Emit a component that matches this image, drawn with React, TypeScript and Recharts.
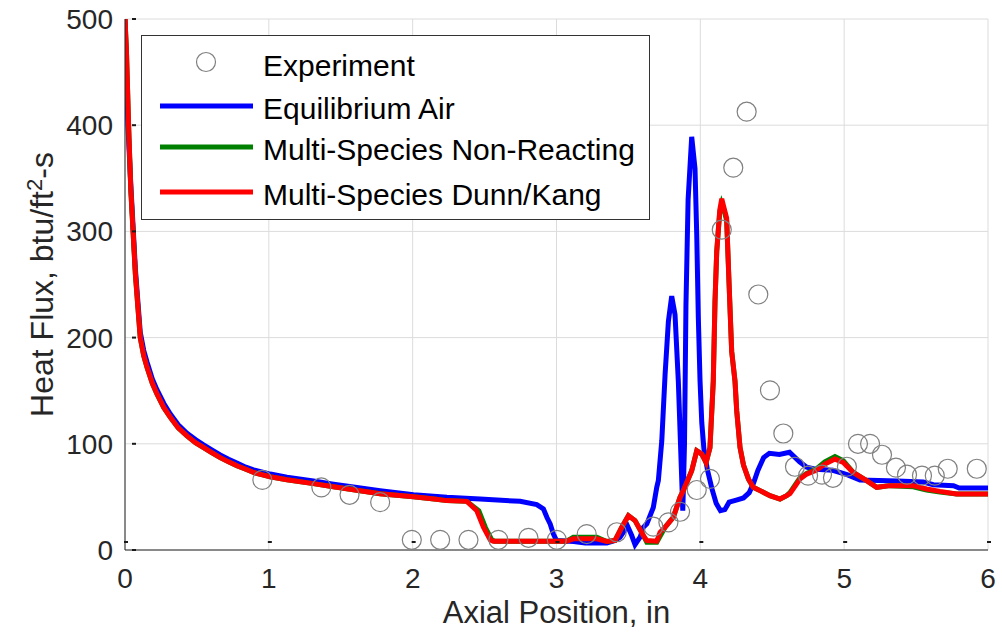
import React from 'react';
import { ComposedChart, Line, Scatter, XAxis, YAxis, CartesianGrid, Legend, Label } from 'recharts';

const FONT = '"Liberation Sans", Arial, Helvetica, sans-serif';
const TEXT = '#262626';

const xTicks = [0, 1, 2, 3, 4, 5, 6];
const yTicks = [0, 100, 200, 300, 400, 500];

const seriesNames = ['Experiment', 'Equilibrium Air', 'Multi-Species Non-Reacting', 'Multi-Species Dunn/Kang'];

// Experiment (open circles)
const expX = [0.955, 1.365, 1.561, 1.774, 1.994, 2.191, 2.388, 2.596, 2.805, 3.002, 3.21, 3.419, 3.673, 3.778, 3.859, 3.975, 4.067, 4.149, 4.229, 4.322, 4.403, 4.484, 4.577, 4.658, 4.749, 4.846, 4.922, 5.019, 5.096, 5.18, 5.263, 5.36, 5.437, 5.541, 5.63, 5.72, 5.922];
const expY = [66, 59, 52, 45, 9.6, 9.6, 9.6, 9.6, 11.5, 9.6, 15, 16.7, 22, 26, 36, 56.5, 67, 301.6, 360, 412.7, 240.6, 150.4, 109.7, 78.4, 70, 71, 68, 78.4, 100, 100, 89.7, 77.5, 70.9, 70, 70, 76.5, 76.5];

// Equilibrium Air (blue)
const eqX = [0, 0.008, 0.02, 0.04, 0.056, 0.072, 0.09, 0.106, 0.13, 0.153, 0.19, 0.222, 0.27, 0.315, 0.37, 0.431, 0.49, 0.546, 0.6, 0.662, 0.72, 0.778, 0.84, 0.894, 0.95, 1.01, 1.126, 1.31, 1.45, 1.6, 1.774, 2.006, 2.238, 2.469, 2.747, 2.863, 2.909, 2.933, 2.956, 2.978, 3.0, 3.12, 3.2, 3.35, 3.407, 3.442, 3.465, 3.492, 3.523, 3.546, 3.581, 3.604, 3.628, 3.673, 3.697, 3.708, 3.732, 3.755, 3.778, 3.801, 3.824, 3.847, 3.871, 3.878, 3.89, 3.9, 3.915, 3.94, 3.963, 3.975, 3.986, 3.998, 4.01, 4.025, 4.05, 4.08, 4.11, 4.14, 4.17, 4.2, 4.25, 4.3, 4.34, 4.37, 4.4, 4.44, 4.48, 4.55, 4.62, 4.69, 4.74, 4.8, 4.92, 5.02, 5.11, 5.37, 5.55, 5.62, 5.76, 5.8, 6.0];
const eqY = [500, 460, 400, 345, 305, 265, 233, 205, 188, 177, 161, 151, 138, 128, 118, 110, 104, 99, 94.5, 89.5, 85.5, 82, 78, 75.5, 73.5, 71.5, 68.5, 65, 62, 59, 55.9, 52.1, 49.6, 48, 45.8, 42.7, 38.7, 30.8, 24.6, 15.2, 8.9, 8, 6.5, 6.5, 8.9, 12, 16.7, 23, 13.6, 5, 12, 21.4, 24.6, 40, 59, 65.3, 102.8, 165.4, 215.5, 239, 221.8, 159, 65.3, 37, 100, 230, 330, 389, 359, 297, 219, 159, 120, 95, 75, 58, 44, 37, 38, 45, 47, 49, 54, 63, 75, 87, 91, 90, 92, 83, 78, 76, 75, 71, 66, 65, 64, 61.5, 60.6, 58.4, 58.4];

// Multi-Species Non-Reacting (green)
const nrX = [0, 0.01, 0.025, 0.04, 0.056, 0.072, 0.09, 0.106, 0.13, 0.153, 0.19, 0.222, 0.27, 0.315, 0.37, 0.431, 0.49, 0.546, 0.6, 0.662, 0.72, 0.778, 0.84, 0.894, 0.95, 1.01, 1.126, 1.31, 1.45, 1.6, 1.774, 2.006, 2.15, 2.238, 2.377, 2.46, 2.505, 2.55, 2.57, 3.07, 3.117, 3.28, 3.35, 3.407, 3.454, 3.5, 3.546, 3.604, 3.628, 3.697, 3.72, 3.755, 3.812, 3.859, 3.882, 3.94, 3.975, 4.01, 4.04, 4.067, 4.09, 4.102, 4.114, 4.135, 4.149, 4.165, 4.183, 4.2, 4.218, 4.241, 4.253, 4.276, 4.3, 4.334, 4.368, 4.392, 4.415, 4.461, 4.484, 4.554, 4.6, 4.623, 4.67, 4.693, 4.739, 4.809, 4.866, 4.936, 4.994, 5.063, 5.156, 5.226, 5.318, 5.48, 5.573, 5.666, 5.782, 6.0];
const nrY = [500, 470, 400, 340, 300, 260, 228, 200, 183, 172, 157, 147, 134, 125, 115, 107.5, 101, 96.5, 92, 87, 83, 79.3, 76, 73, 71, 69, 66.2, 62.5, 59.5, 56.5, 53, 50.2, 48, 46.5, 45.8, 37, 21.4, 9.6, 8.3, 8.3, 12, 12, 8, 9, 21.4, 32.4, 27.7, 13.6, 7.3, 7.3, 13, 21.4, 30.8, 49.6, 56, 74.6, 93.4, 90.3, 82.4, 96.5, 159, 234, 281, 318, 326, 320, 310, 250, 187, 159, 131, 96.5, 80, 66.9, 59, 57.5, 55.9, 52.8, 51.2, 48, 51.2, 54, 63.5, 68, 72, 76.5, 83, 88, 84, 73, 65.3, 59, 60.6, 59.5, 56.5, 54.5, 52.8, 52.8];

// Multi-Species Dunn/Kang (red)
const dkX = [0, 0.01, 0.025, 0.04, 0.056, 0.072, 0.09, 0.106, 0.13, 0.153, 0.19, 0.222, 0.27, 0.315, 0.37, 0.431, 0.49, 0.546, 0.6, 0.662, 0.72, 0.778, 0.84, 0.894, 0.95, 1.01, 1.126, 1.31, 1.45, 1.6, 1.774, 2.006, 2.15, 2.238, 2.377, 2.446, 2.492, 2.539, 2.56, 3.07, 3.117, 3.28, 3.35, 3.407, 3.454, 3.5, 3.546, 3.604, 3.628, 3.697, 3.72, 3.755, 3.812, 3.859, 3.882, 3.94, 3.975, 4.01, 4.04, 4.067, 4.09, 4.102, 4.114, 4.135, 4.149, 4.165, 4.183, 4.2, 4.218, 4.241, 4.253, 4.276, 4.3, 4.334, 4.368, 4.392, 4.415, 4.461, 4.484, 4.554, 4.6, 4.623, 4.67, 4.693, 4.739, 4.809, 4.866, 4.936, 4.994, 5.063, 5.156, 5.226, 5.318, 5.48, 5.573, 5.666, 5.782, 6.0];
const dkY = [500, 470, 400, 340, 300, 260, 228, 200, 183, 172, 157, 147, 134, 125, 115, 107.5, 101, 96.5, 92, 87, 83, 79.3, 76, 73, 71, 69, 66.2, 62.5, 59.5, 56.5, 53, 50.2, 48, 46.5, 45.8, 37, 21.4, 9.6, 8.3, 8.3, 10.5, 10.5, 8, 9, 21.4, 32.4, 27.7, 13.6, 8.9, 8.3, 16.7, 21.4, 30.8, 49.6, 56, 74.6, 93.4, 90.3, 82.4, 96.5, 159, 234, 281, 320, 330.7, 322, 312.5, 250, 187, 159, 131, 96.5, 80, 66.9, 59, 57.5, 55.9, 52.8, 51.2, 48, 51.2, 53, 62.2, 66.9, 71.5, 75.3, 80.9, 85.6, 82.4, 73, 65.3, 59, 60.6, 60.6, 57.5, 55.2, 52.8, 52.8];

const toPts = (xs: number[], ys: number[]) => xs.map((x, i) => ({ x, y: ys[i] }));
const expData = toPts(expX, expY);
const eqData = toPts(eqX, eqY);
const nrData = toPts(nrX, nrY);
const dkData = toPts(dkX, dkY);

const COLORS = { exp: '#808080', eq: '#0000ff', nr: '#008000', dk: '#ff0000' };
const LW = 5;

const XTick = (props: any) => {
  const { x, y, payload } = props;
  return (
    <g>
      <text x={x} y={y + 38} textAnchor="middle" fontSize={28} fontFamily={FONT} fill={TEXT}>{payload.value}</text>
      <line x1={x - 1} x2={x + 3} y1={y - 8} y2={y - 8} stroke="#1a1a1a" strokeWidth={2} />
    </g>
  );
};
const YTick = (props: any) => {
  const { x, y, payload } = props;
  return (
    <g>
      <text x={x - 12} y={y + 10} textAnchor="end" fontSize={28} fontFamily={FONT} fill={TEXT}>{payload.value}</text>
      <line x1={x + 7} x2={x + 11} y1={y} y2={y} stroke="#1a1a1a" strokeWidth={2} />
    </g>
  );
};
const TopTick = (props: any) => {
  const { x, y } = props;
  return <line x1={x} x2={x + 4} y1={y + 4} y2={y + 4} stroke="#1a1a1a" strokeWidth={2} />;
};
const RightTick = (props: any) => {
  const { x, y } = props;
  return <line x1={x - 8} x2={x - 4} y1={y} y2={y} stroke="#1a1a1a" strokeWidth={2} />;
};

const LegendBox = () => (
  <div style={{ width: 509, height: 185, boxSizing: 'border-box', border: '1px solid #333', background: '#fff', position: 'relative' }}>
    <svg width={509} height={185} style={{ position: 'absolute', left: -1, top: -1 }}>
      <circle cx={65} cy={27} r={9.5} fill="none" stroke={COLORS.exp} strokeWidth={1.2} />
      <line x1={19} x2={112} y1={71} y2={71} stroke={COLORS.eq} strokeWidth={5} />
      <line x1={19} x2={112} y1={112} y2={112} stroke={COLORS.nr} strokeWidth={5} />
      <line x1={19} x2={112} y1={157} y2={157} stroke={COLORS.dk} strokeWidth={5} />
      {seriesNames.map((n, i) => (
        <text key={n} x={122} y={[41, 84, 125, 170][i]} fontSize={30} fontFamily={FONT} fill="#000">{n}</text>
      ))}
    </svg>
  </div>
);

const YLabel = (props: any) => {
  const vb = props.viewBox;
  const cx = vb.x + 53;
  const cy = vb.y + vb.height / 2;
  return (
    <text transform={`translate(${cx},${cy}) rotate(-90)`} textAnchor="middle" fontSize={32} fontFamily={FONT} fill={TEXT}>
      Heat Flux, btu/ft<tspan dy={-11} fontSize={22}>2</tspan><tspan dy={11}>-s</tspan>
    </text>
  );
};
const XLabel = (props: any) => {
  const vb = props.viewBox;
  return (
    <text x={vb.x + vb.width / 2} y={vb.y + 73} textAnchor="middle" fontSize={31} fontFamily={FONT} fill={TEXT}>
      Axial Position, in
    </text>
  );
};

const Circle = (p: any) => <circle cx={p.cx} cy={p.cy} r={9.5} fill="none" stroke={COLORS.exp} strokeWidth={1.2} />;

export default function App() {
  return (
    <div style={{ position: 'absolute', left: 0, top: 0, width: 1002, height: 636, background: '#fff' }}>
      <ComposedChart width={1002} height={636} margin={{ top: 19, right: 14, bottom: 26, left: 0 }}>
        <CartesianGrid stroke="#dcdcdc" strokeWidth={1} />
        <XAxis dataKey="x" type="number" domain={[0, 6]} ticks={xTicks} allowDataOverflow height={60}
          tickSize={0} tickMargin={0} tickLine={false} tick={<XTick />} axisLine={{ stroke: TEXT, strokeWidth: 1 }}>
          <Label content={<XLabel />} />
        </XAxis>
        <XAxis xAxisId="top" orientation="top" type="number" domain={[0, 6]} ticks={xTicks} height={0}
          tickSize={0} tickMargin={0} tickLine={false} tick={<TopTick />} axisLine={{ stroke: TEXT, strokeWidth: 1 }} />
        <YAxis type="number" domain={[0, 500]} ticks={yTicks} allowDataOverflow width={125}
          tickSize={0} tickMargin={0} tickLine={false} tick={<YTick />} axisLine={{ stroke: TEXT, strokeWidth: 1 }}>
          <Label content={<YLabel />} />
        </YAxis>
        <YAxis yAxisId="right" orientation="right" type="number" domain={[0, 500]} ticks={yTicks} width={0}
          tickSize={0} tickMargin={0} tickLine={false} tick={<RightTick />} axisLine={{ stroke: TEXT, strokeWidth: 1 }} />
        <Scatter name={seriesNames[0]} data={expData} dataKey="y" shape={<Circle />} isAnimationActive={false} />
        <Line name={seriesNames[1]} data={eqData} dataKey="y" type="linear" stroke={COLORS.eq} strokeWidth={LW} dot={false} isAnimationActive={false} />
        <Line name={seriesNames[2]} data={nrData} dataKey="y" type="linear" stroke={COLORS.nr} strokeWidth={LW} dot={false} isAnimationActive={false} />
        <Line name={seriesNames[3]} data={dkData} dataKey="y" type="linear" stroke={COLORS.dk} strokeWidth={LW} dot={false} isAnimationActive={false} />
        <Legend layout="horizontal" verticalAlign="middle" align="center"
          wrapperStyle={{ left: 141, top: 35, width: 509, height: 185 }} content={() => <LegendBox />} />
      </ComposedChart>
    </div>
  );
}
